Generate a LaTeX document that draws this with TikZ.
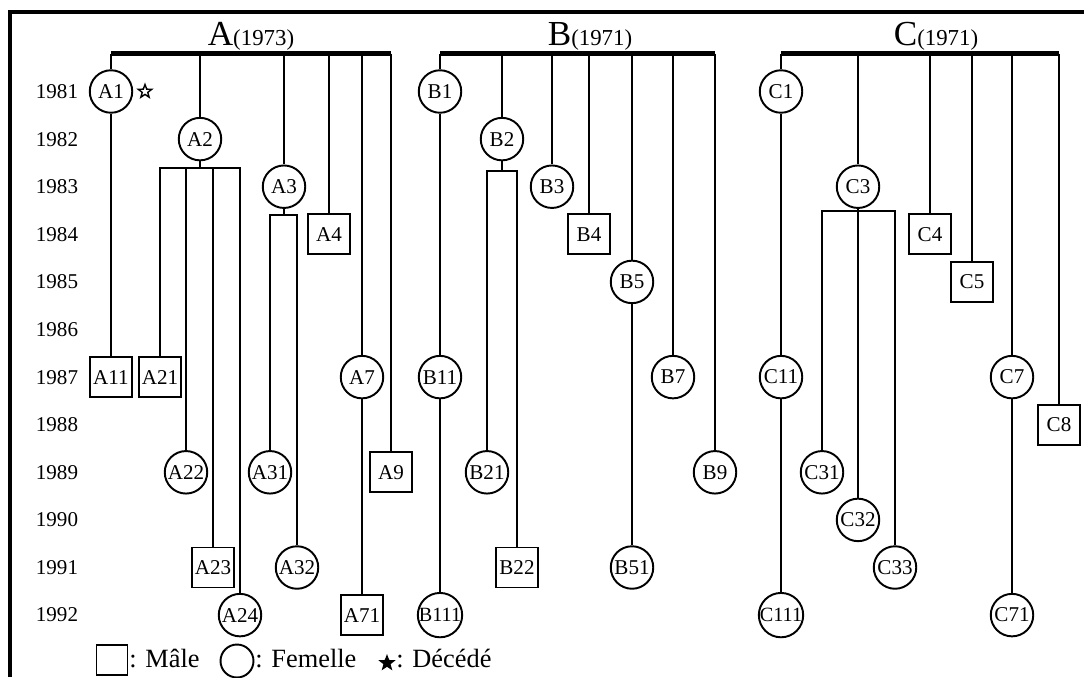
\documentclass[tikz,border=0pt]{standalone}
\usepackage{fontspec}
\setmainfont{Liberation Serif}
\usetikzlibrary{shapes.geometric}

\begin{document}
\begin{tikzpicture}[x=0.02cm, y=-0.02cm,
	fem/.style={draw, circle, line width=1.1pt, minimum size=0.85cm, inner sep=0pt, font=\fontsize{12}{12}\selectfont},
	male/.style={draw, rectangle, line width=1.1pt, minimum width=0.83cm, minimum height=0.8cm, inner sep=0pt, font=\fontsize{12}{12}\selectfont},
	narrow/.style={font=\fontsize{11.5}{11.5}\selectfont},
	link/.style={line width=1pt},
	bar/.style={line width=3.4pt},
	yearlbl/.style={font=\fontsize{12}{12}\selectfont},
	famtitle/.style={anchor=base, inner sep=0pt, font=\fontsize{20}{20}\selectfont},
	legtext/.style={anchor=base west, inner sep=0pt, font=\fontsize{15}{15}\selectfont},
	deadstar/.style={star, star points=5, star point ratio=2.4, draw, line width=0.8pt, minimum size=0.28cm, inner sep=0pt}]
			%%%%% START %%%%%
			\useasboundingbox (0,0) rectangle (1084,677);
			\draw[line width=2pt] (1084,12) -- (10,12) -- (10,677);
			
			% years
			\foreach \yr [count=\i from 0] in {1981,...,1992}
				\node[yearlbl] (y\yr) at (57, 91.5+47.6*\i) {\yr};
			
			% family titles
			\node[famtitle] (tA) at (251,45) {A{\fontsize{13}{13}\selectfont(1973)}};
			\node[famtitle] (tB) at (590,45) {B{\fontsize{13}{13}\selectfont(1971)}};
			\node[famtitle] (tC) at (936,45) {C{\fontsize{13}{13}\selectfont(1971)}};
			\coordinate (barA) at (0,53.5);
			
			% family A
			\node[fem] (A1) at (111,0 |- y1981) {A1};
			\node[deadstar] (A1d) at (145,0 |- y1981) {};
			\node[fem] (A2) at (200,0 |- y1982) {A2};
			\node[fem] (A3) at (284,0 |- y1983) {A3};
			\node[male] (A4) at (329,0 |- y1984) {A4};
			\node[fem] (A7) at (362,0 |- y1987) {A7};
			\node[male] (A9) at (391,0 |- y1989) {A9};
			\node[male] (A11) at (111,0 |- y1987) {A11};
			\node[male] (A21) at (160,0 |- y1987) {A21};
			\node[fem] (A22) at (186,0 |- y1989) {A22};
			\node[male] (A23) at (213,0 |- y1991) {A23};
			\node[fem] (A24) at (240,0 |- y1992) {A24};
			\node[fem] (A31) at (270,0 |- y1989) {A31};
			\node[fem] (A32) at (297,0 |- y1991) {A32};
			\node[male] (A71) at (362,0 |- y1992) {A71};
			
			\draw[bar] (A1 |- barA) -- (A9 |- barA);
			\foreach \n in {A1,A2,A3,A4,A7,A9}
				\draw[link] (\n |- barA) -- (\n);
			\draw[link] (A1) -- (A11);
			\coordinate (kA2) at (200,168);
			\draw[link] (A2) -- (kA2);
			\draw[link] (A21) |- (kA2) -| (A24);
			\draw[link] (A22 |- kA2) -- (A22);
			\draw[link] (A23 |- kA2) -- (A23);
			\coordinate (kA3) at (284,215);
			\draw[link] (A3) -- (kA3);
			\draw[link] (A31) |- (kA3) -| (A32);
			\draw[link] (A7) -- (A71);
			
			% family B
			\node[fem] (B1) at (440,0 |- y1981) {B1};
			\node[fem] (B2) at (502,0 |- y1982) {B2};
			\node[fem] (B3) at (552,0 |- y1983) {B3};
			\node[male] (B4) at (589,0 |- y1984) {B4};
			\node[fem] (B5) at (632,0 |- y1985) {B5};
			\node[fem] (B7) at (673,0 |- y1987) {B7};
			\node[fem] (B9) at (715,0 |- y1989) {B9};
			\node[fem] (B11) at (440,0 |- y1987) {B11};
			\node[fem, narrow] (B111) at (440,0 |- y1992) {B111};
			\node[fem] (B21) at (487,0 |- y1989) {B21};
			\node[male] (B22) at (517,0 |- y1991) {B22};
			\node[fem] (B51) at (632,0 |- y1991) {B51};
			
			\draw[bar] (B1 |- barA) -- (B9 |- barA);
			\foreach \n in {B1,B2,B3,B4,B5,B7,B9}
				\draw[link] (\n |- barA) -- (\n);
			\draw[link] (B1) -- (B11) -- (B111);
			\coordinate (kB2) at (502,171);
			\draw[link] (B2) -- (kB2);
			\draw[link] (B21) |- (kB2) -| (B22);
			\draw[link] (B5) -- (B51);
			
			% family C
			\node[fem] (C1) at (781,0 |- y1981) {C1};
			\node[fem] (C3) at (858,0 |- y1983) {C3};
			\node[male] (C4) at (930,0 |- y1984) {C4};
			\node[male] (C5) at (972,0 |- y1985) {C5};
			\node[fem] (C7) at (1012,0 |- y1987) {C7};
			\node[male] (C8) at (1059,0 |- y1988) {C8};
			\node[fem] (C11) at (781,0 |- y1987) {C11};
			\node[fem, narrow] (C111) at (781,0 |- y1992) {C111};
			\node[fem] (C31) at (822,0 |- y1989) {C31};
			\node[fem] (C32) at (858,0 |- y1990) {C32};
			\node[fem] (C33) at (895,0 |- y1991) {C33};
			\node[fem] (C71) at (1012,0 |- y1992) {C71};
			
			\draw[bar] (C1 |- barA) -- (C8 |- barA);
			\foreach \n in {C1,C3,C4,C5,C7,C8}
				\draw[link] (\n |- barA) -- (\n);
			\draw[link] (C1) -- (C11) -- (C111);
			\coordinate (kC3) at (858,211);
			\draw[link] (C31) |- (kC3) -| (C33);
			\draw[link] (C3) -- (C32);
			\draw[link] (C7) -- (C71);
			
			% legend
			\node[male, minimum width=0.62cm, minimum height=0.6cm] (lgM) at (112,660) {};
			\node[legtext] (lgMt) at (129,667) {: Mâle};
			\node[fem, minimum size=0.66cm] (lgF) at (237,661) {};
			\node[legtext] (lgFt) at (255,667) {: Femelle};
			\node[deadstar, fill=black] (lgD) at (387,663) {};
			\node[legtext] (lgDt) at (396,667) {: Décédé};
			%%%%% END %%%%%
\end{tikzpicture}
\end{document}
